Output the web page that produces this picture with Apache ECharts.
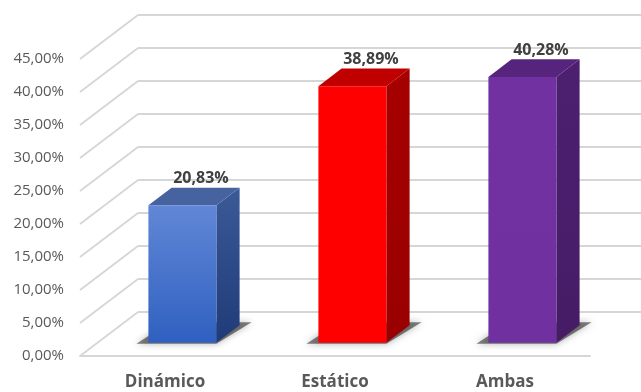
<!DOCTYPE html>
<html><head><meta charset="utf-8">
<script src="https://cdn.jsdelivr.net/npm/echarts@6/dist/echarts.min.js"></script>
<style>html,body{margin:0;padding:0;background:#fff}#c{width:641px;height:392px}</style>
</head><body><div id="c"></div>
<script>
const categories = ['Dinámico', 'Estático', 'Ambas'];
const values = [20.83, 38.89, 40.28];
const yTicks = [0, 5, 10, 15, 20, 25, 30, 35, 40, 45];

const DEPTH_X = 58, DEPTH_Y = 44;
const BAR_POS = 0.3, BAR_DEPTH = 0.4, BAR_WIDTH = 0.4;
const FONT = 'Open Sans';
const palette = [
  { front: ['#6187d6', '#2f60c0'], side: ['#3c5998', '#1f3b78'], top: '#46629f' },
  { front: ['#ff0000', '#ff0000'], side: ['#a60000', '#9a0000'], top: '#c00000' },
  { front: ['#7131a1', '#7030a0'], side: ['#4d1f70', '#461c66'], top: '#57247d' }
];
function fmt(v) { return Number(v).toFixed(2).replace('.', ',') + '%'; }

const chart = echarts.init(document.getElementById('c'), null, { renderer: 'canvas' });
chart.setOption({
  backgroundColor: '#fff',
  animation: false,
  grid: { left: 80, right: 51, top: 59, bottom: 36 },
  xAxis: {
    type: 'category', data: categories,
    axisLine: { show: true, lineStyle: { color: '#d6d6d6', width: 1.8 } },
    axisTick: { show: false },
    axisLabel: { fontSize: 17, fontWeight: 'bold', color: '#595959', margin: 18, fontFamily: FONT }
  },
  yAxis: {
    type: 'value', min: 0, max: 45, interval: 5,
    axisLine: { show: false }, axisTick: { show: false }, splitLine: { show: false },
    axisLabel: { formatter: fmt, fontSize: 15, color: '#595959', margin: 16, fontFamily: FONT }
  },
  series: [
    {
      type: 'custom', silent: true, z: 1,
      data: yTicks.map(v => [0, v]),
      renderItem: function (params, api) {
        const y = api.coord([0, api.value(1)])[1];
        const cs = params.coordSys;
        const x0 = cs.x;
        const st = { stroke: '#d6d6d6', lineWidth: 1.8 };
        return {
          type: 'group', children: [
            { type: 'line', shape: { x1: x0, y1: y, x2: x0 + DEPTH_X, y2: y - DEPTH_Y }, style: st },
            { type: 'line', shape: { x1: x0 + DEPTH_X, y1: y - DEPTH_Y, x2: x0 + cs.width + DEPTH_X, y2: y - DEPTH_Y }, style: st }
          ]
        };
      }
    },
    {
      type: 'custom', silent: true, z: 2,
      data: values.map((v, i) => [i, v]),
      renderItem: function (params, api) {
        const i = api.value(0), v = api.value(1);
        const top = api.coord([i, v]), base = api.coord([i, 0]);
        const w = api.size([1, 0])[0] * BAR_WIDTH;
        const ox = DEPTH_X * BAR_POS, oy = DEPTH_Y * BAR_POS;
        const dx = DEPTH_X * BAR_DEPTH, dy = DEPTH_Y * BAR_DEPTH;
        const xl = top[0] - w / 2 + ox, xr = xl + w;
        const yt = top[1] - oy, yb = base[1] - oy;
        const p = palette[i % palette.length];
        const grad = (c) => new echarts.graphic.LinearGradient(0, 0, 0, 1, [{ offset: 0, color: c[0] }, { offset: 1, color: c[1] }]);
        return {
          type: 'group', children: [
            { type: 'polygon', shape: { points: [[xl - 12, yb + 1], [xr, yb + 1], [xr + dx + 12, yb - dy - 3], [xl + dx - 2, yb - dy - 3]] },
              style: { fill: 'rgba(30,30,30,0.55)', shadowBlur: 7, shadowColor: 'rgba(0,0,0,0.55)' } },
            { type: 'polygon', shape: { points: [[xr, yb], [xr + dx, yb - dy], [xr + dx, yt - dy], [xr, yt]] },
              style: { fill: grad(p.side) } },
            { type: 'polygon', shape: { points: [[xl, yt], [xr, yt], [xr + dx, yt - dy], [xl + dx, yt - dy]] },
              style: { fill: p.top } },
            { type: 'rect', shape: { x: xl, y: yt, width: w, height: yb - yt },
              style: { fill: grad(p.front) } },
            { type: 'text', x: (xl + xr) / 2 + dx * 0.8, y: yt - dy - 1,
              style: { text: fmt(v), fill: '#404040', font: 'bold 16px "Open Sans"', align: 'center', verticalAlign: 'bottom' } }
          ]
        };
      }
    }
  ]
});
</script>
</body></html>
